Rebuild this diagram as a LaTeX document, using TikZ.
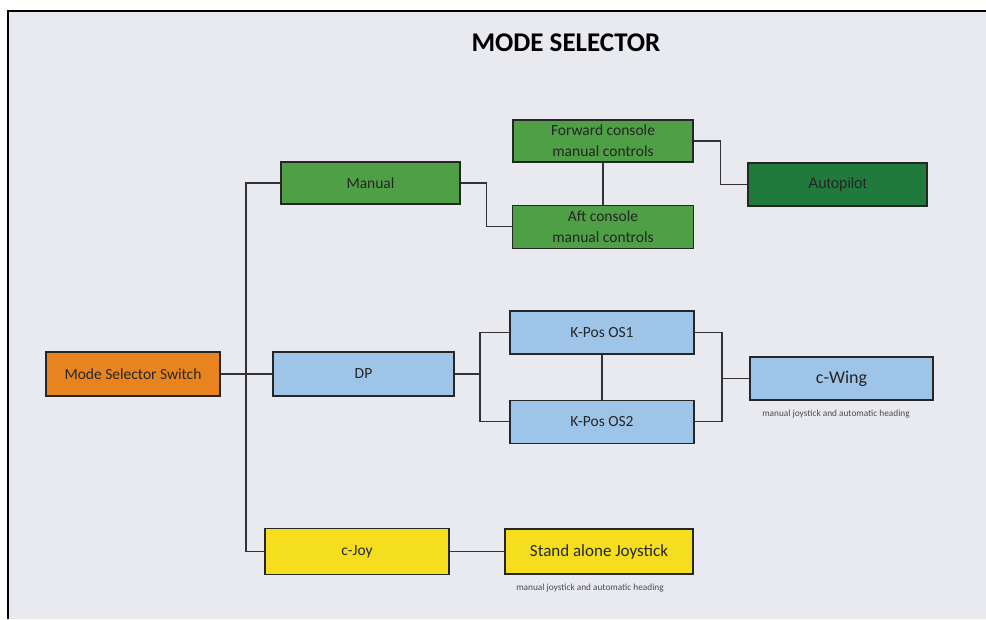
\documentclass[tikz,border=0pt]{standalone}
\usepackage{fontspec}
\setmainfont{Carlito}
\newfontfamily\arialfont{Liberation Sans}
\usepackage{tikz}
\usetikzlibrary{positioning}
\definecolor{paper}{HTML}{E9EAF0}
\definecolor{switchfill}{HTML}{E8841F}
\definecolor{manualfill}{HTML}{4E9F45}
\definecolor{autofill}{HTML}{1F7A3B}
\definecolor{dpfill}{HTML}{9EC4E8}
\definecolor{joyfill}{HTML}{F4DE1E}
\def\BoxHeight{43pt}
\def\BoxWidth{181pt}
\tikzset{
  modebox/.style={draw=black!85,line width=1.4pt,minimum width=\BoxWidth,minimum height=\BoxHeight,
    inner sep=0pt,align=center,text=black!85,font=\fontsize{15.5}{21}\selectfont},
  link/.style={draw=black!80,line width=1.1pt},
  note/.style={inner sep=0pt,text=black!70,font=\fontsize{9.3}{11}\selectfont}
}

\begin{document}
\begin{tikzpicture}[x=1pt,y=-1pt]
  \useasboundingbox (0,0) rectangle (986,619);
  % paper and frame
  \fill[white] (0,0) rectangle (986,619);
  \fill[paper] (8,11) rectangle (986,619);
  \draw[line width=1.6pt] (8,619) -- (8,11) -- (986,11);
  \node (title) at (566,43) {\fontsize{27}{30}\selectfont\bfseries MODE SELECTOR};
  %
  \node[modebox,fill=switchfill,minimum width=174pt,minimum height=44pt] (switch) at (133,374) {Mode Selector Switch};
  \node[modebox,fill=manualfill,minimum width=179pt,minimum height=42pt] (manual) at (370.5,183) {Manual};
  \node[modebox,fill=dpfill,minimum height=44pt] (dp) at (363.5,374) {DP};
  \node[modebox,fill=joyfill,minimum width=184pt,minimum height=46pt] (cjoy) at (357,551.5) {c-Joy};
  %
  \node[modebox,fill=manualfill,minimum width=180pt,minimum height=42pt] (fwd) at (603,141) {Forward console\\manual controls};
  \node[modebox,fill=manualfill,below=42pt of fwd] (aft) {Aft console\\manual controls};
  \node[modebox,fill=autofill,minimum width=179pt,font=\arialfont\fontsize{15}{18}\selectfont] (auto) at (837.5,184.5) {Autopilot};
  %
  \node[modebox,fill=dpfill,minimum width=184pt] (os1) at (602,332.5) {K-Pos OS1};
  \node[modebox,fill=dpfill,minimum width=184pt,below=45pt of os1] (os2) {K-Pos OS2};
  \node[modebox,fill=dpfill,minimum width=183pt,font=\fontsize{18}{21}\selectfont] (cwing) at (841.5,378.5) {c-Wing};
  \node[modebox,fill=joyfill,minimum width=188pt,minimum height=45pt,font=\fontsize{17}{21}\selectfont] (stand) at (599,551.5) {Stand alone Joystick};
  %
  \node[note] (cwingnote) at (836,414) {manual joystick and automatic heading};
  \node[note] (standnote) at (590,588) {manual joystick and automatic heading};
  %
  \coordinate (trunk) at (246,374);
  \coordinate (lfork) at (480,374);
  \coordinate (rfork) at (722,378.5);
  \draw[link] (switch.east) -- (dp.west);
  \draw[link] (manual.west) -| (trunk) |- (cjoy.west);
  \draw[link] (manual.east) -- ++(26,0) |- (aft.west);
  \draw[link] (fwd.south) -- (aft.north);
  \draw[link] (fwd.east) -- ++(27,0) |- (auto.west);
  \draw[link] (dp.east) -- (lfork);
  \draw[link] (os1.west) -| (lfork) |- (os2.west);
  \draw[link] (os1.south) -- (os2.north);
  \draw[link] (os1.east) -| (rfork) |- (os2.east);
  \draw[link] (rfork) -- (cwing.west);
  \draw[link] (cjoy.east) -- (stand.west);
\end{tikzpicture}
\end{document}
